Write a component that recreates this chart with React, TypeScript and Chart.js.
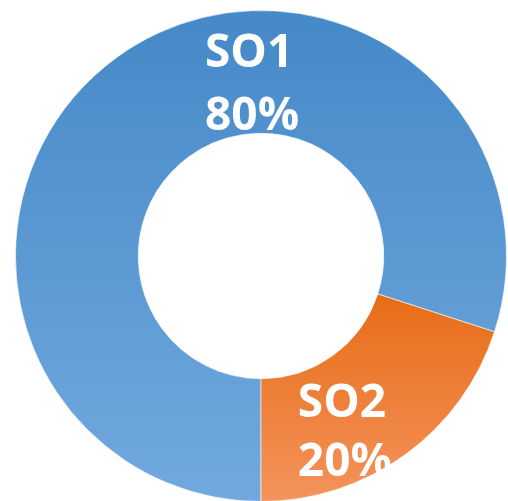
import React, { useEffect, useRef } from "react";
import { Chart, registerables } from "chart.js";

Chart.register(...registerables);

const categories = ["SO1", "SO2"];
const values = [80, 20];
const percentLabels = ["80%", "20%"];

// label anchor offsets relative to chart centre, in units of outer radius
const labelOffsets = [
  { x: -0.228, y1: -0.768, y2: -0.512 },
  { x: 0.15, y1: 0.654, y2: 0.898 },
];

const labelPlugin = {
  id: "sliceLabels",
  afterDatasetsDraw(chart: any) {
    const meta = chart.getDatasetMeta(0);
    const ctx = chart.ctx;
    ctx.save();
    ctx.fillStyle = "#ffffff";
    ctx.font = "bold 46px 'Open Sans'";
    ctx.textAlign = "left";
    ctx.textBaseline = "alphabetic";
    meta.data.forEach((arc: any, i: number) => {
      const { x, y, outerRadius } = arc.getProps(["x", "y", "outerRadius"], true);
      const o = labelOffsets[i];
      const lx = x + o.x * outerRadius;
      ctx.fillText(categories[i], lx, y + o.y1 * outerRadius);
      ctx.fillText(percentLabels[i], lx, y + o.y2 * outerRadius);
    });
    ctx.restore();
  },
};

function makeGradient(chart: any, i: number) {
  const area = chart.chartArea;
  if (!area) return i === 0 ? "#5394d3" : "#ee7a2c";
  const c = chart.ctx;
  const h = area.bottom - area.top;
  if (i === 0) {
    const g = c.createLinearGradient(0, area.top, 0, area.bottom);
    g.addColorStop(0, "#4589c8");
    g.addColorStop(1, "#71a9de");
    return g;
  }
  const g = c.createLinearGradient(0, area.top + h * 0.58, 0, area.bottom);
  g.addColorStop(0, "#e76d17");
  g.addColorStop(1, "#f4935c");
  return g;
}

export default function App() {
  const ref = useRef<HTMLCanvasElement>(null);
  useEffect(() => {
    document.body.style.margin = "0";
    document.body.style.overflow = "hidden";
    const chart = new Chart(ref.current!, {
      type: "doughnut",
      data: {
        labels: categories,
        datasets: [
          {
            data: values,
            backgroundColor: (ctx: any) => makeGradient(ctx.chart, ctx.dataIndex),
            borderColor: "rgba(255,255,255,0.6)",
            borderWidth: 1,
          },
        ],
      },
      options: {
        responsive: false,
        animation: false,
        rotation: 180,
        cutout: "50%",
        layout: { padding: { left: 15, right: 1, top: 10, bottom: 10 } },
        plugins: {
          legend: { display: false },
          tooltip: { enabled: false },
        },
      },
      plugins: [labelPlugin],
    });
    return () => chart.destroy();
  }, []);
  return (
    <div style={{ width: 508, height: 501, overflow: "hidden" }}>
      <canvas ref={ref} width={508} height={512} style={{ display: "block" }} />
    </div>
  );
}
